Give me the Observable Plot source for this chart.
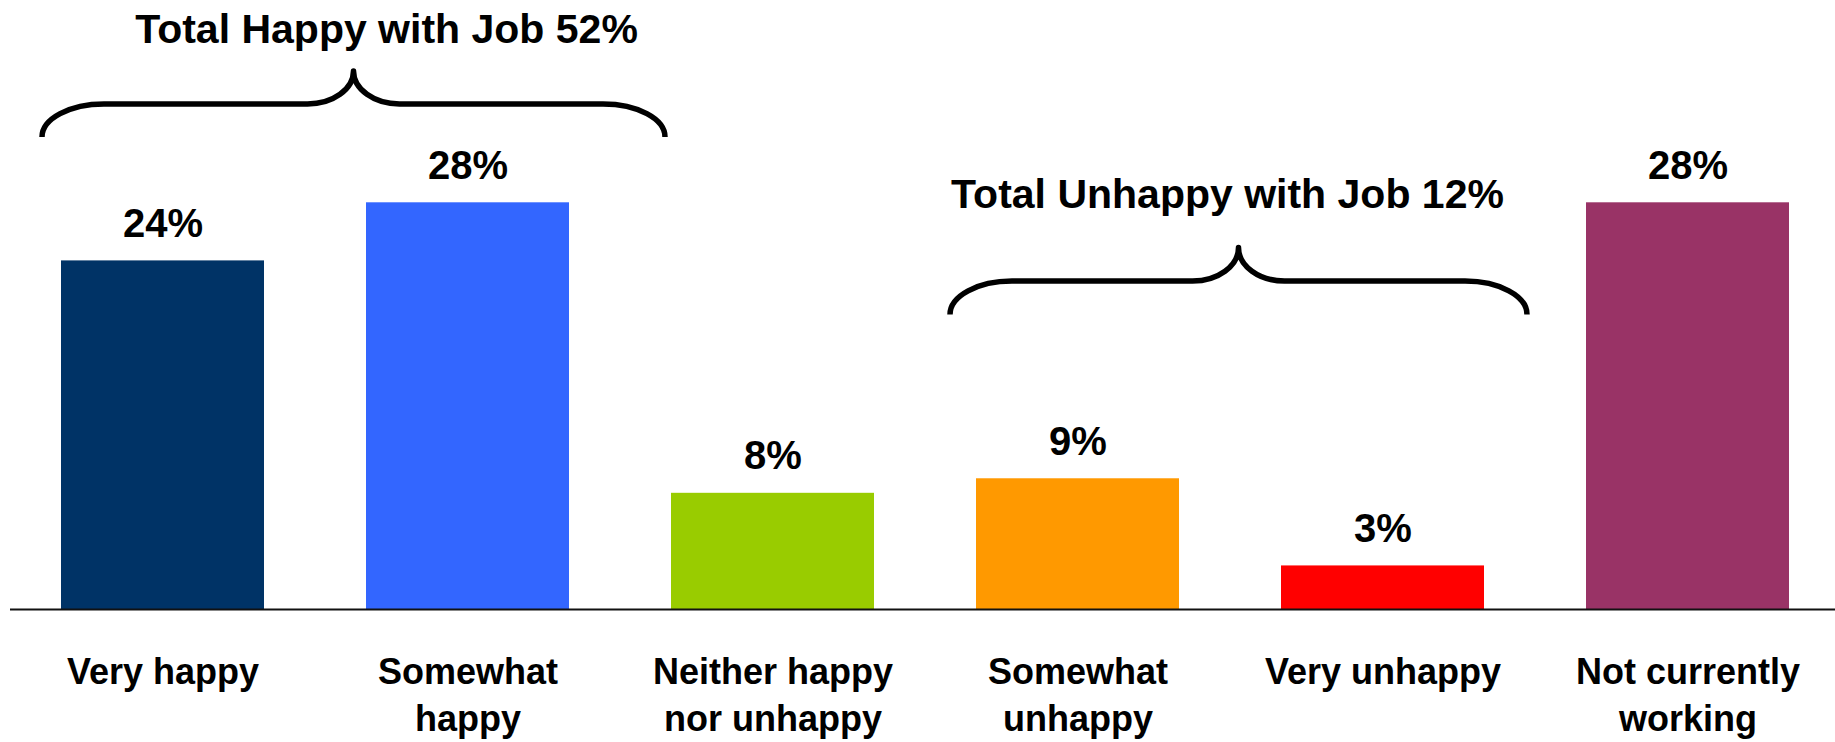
<!DOCTYPE html>
<html>
<head>
<meta charset="utf-8">
<script src="https://cdn.jsdelivr.net/npm/d3@7"></script>
<script src="https://cdn.jsdelivr.net/npm/@observablehq/plot@0.6"></script>
<style>
  html, body { margin: 0; padding: 0; background: #fff; }
  #chart svg { display: block; }
</style>
</head>
<body>
<div id="chart"></div>
<script>
// ---- data ----
const categories = ["Very happy", "Somewhat happy", "Neither happy nor unhappy", "Somewhat unhappy", "Very unhappy", "Not currently working"];
const tickLabels = ["Very happy", "Somewhat\nhappy", "Neither happy\nnor unhappy", "Somewhat\nunhappy", "Very unhappy", "Not currently\nworking"];
const values = [24, 28, 8, 9, 3, 28];
const valueLabels = ["24%", "28%", "8%", "9%", "3%", "28%"];
const groupLabels = ["Total Happy with Job 52%", "Total Unhappy with Job 12%"];
const groupMembers = [["Very happy", "Somewhat happy"], ["Somewhat unhappy", "Very unhappy"]];

// ---- styles / annotation layout ----
const palette = ["#003366", "#3366FF", "#99CC00", "#FF9900", "#FF0000", "#993366"];
const braceLayout = [
  {padLeft: 19, padRight: 96, level: 34.77, rise: 2.27, labelY: 38.97, labelDx: 33},
  {padLeft: 26, padRight: 43, level: 22.58, rise: 2.3, labelY: 27.6, labelDx: -11}
];
const FONT = "'Liberation Sans', Arial, Helvetica, sans-serif";

const table = categories.map((c, i) => ({cat: c, value: values[i], label: valueLabels[i], tick: tickLabels[i]}));
const tickOf = new Map(table.map(d => [d.cat, d.tick]));

function braces(index, scales) {
  const x = scales.x, y = scales.y;
  const bw = typeof x.bandwidth === "function" ? x.bandwidth() : x.bandwidth;
  const g = d3.create("svg:g");
  const k = 0.5523;
  groupMembers.forEach((members, i) => {
    const lay = braceLayout[i];
    const L = x(members[0]) - lay.padLeft;
    const R = x(members[members.length - 1]) + bw + lay.padRight;
    const C = (L + R) / 2;
    const yH = y(lay.level), yE = y(lay.level - lay.rise), yT = y(lay.level + lay.rise);
    const rxE = 62, rxT = 46;
    const ryE = yE - yH, ryT = yH - yT;
    const d = [
      `M${L},${yE}`,
      `C${L},${yE - k * ryE} ${L + rxE - k * rxE},${yH} ${L + rxE},${yH}`,
      `L${C - rxT},${yH}`,
      `C${C - rxT + k * rxT},${yH} ${C},${yT + k * ryT} ${C},${yT}`,
      `C${C},${yT + k * ryT} ${C + rxT - k * rxT},${yH} ${C + rxT},${yH}`,
      `L${R - rxE},${yH}`,
      `C${R - rxE + k * rxE},${yH} ${R},${yE - k * ryE} ${R},${yE}`
    ].join(" ");
    g.append("path")
      .attr("d", d)
      .attr("fill", "none")
      .attr("stroke", "#000")
      .attr("stroke-width", 5.5)
      .attr("stroke-linejoin", "round");
    g.append("text")
      .attr("x", C + lay.labelDx)
      .attr("y", y(lay.labelY))
      .attr("text-anchor", "middle")
      .attr("font-family", FONT)
      .attr("font-weight", "bold")
      .attr("font-size", 41)
      .attr("fill", "#000")
      .text(groupLabels[i]);
  });
  return g.node();
}

const chart = Plot.plot({
  width: 1835,
  height: 742,
  marginLeft: 10,
  marginRight: 0,
  marginTop: 28,
  marginBottom: 133,
  style: {fontFamily: FONT, color: "#000", background: "#fff", overflow: "visible"},
  x: {domain: categories, range: [10, 1840], paddingInner: 0.334, paddingOuter: 0.167, axis: null},
  y: {domain: [0, 40], axis: null},
  color: {domain: categories, range: palette},
  marks: [
    Plot.barY(table, {x: "cat", y: "value", fill: "cat"}),
    Plot.ruleY([0], {stroke: "#111", strokeWidth: 2}),
    Plot.text(table, {x: "cat", y: "value", text: "label", dy: -24, lineAnchor: "bottom", fontSize: 40, fontWeight: "bold", fill: "#000"}),
    Plot.axisX({tickSize: 0, tickPadding: 41, fontSize: 36, fontWeight: "bold", lineHeight: 1.31, tickFormat: d => tickOf.get(d), label: null, fill: "#000"}),
    braces
  ]
});
document.getElementById("chart").appendChild(chart);
</script>
</body>
</html>
